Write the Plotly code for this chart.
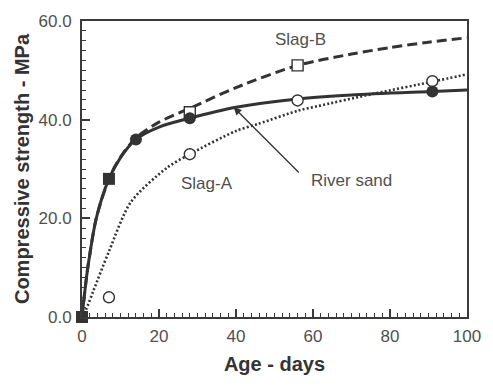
import plotly.graph_objects as go

# Measured test ages (days) and compressive strengths (MPa)
river_age = [0, 7, 14, 28, 91]
river_str = [0, 28.0, 36.0, 40.3, 45.7]
river_sym = ["square", "square", "circle", "circle", "circle"]

slagb_age = [28, 56]
slagb_str = [41.5, 51.0]

slaga_age = [7, 28, 56, 91]
slaga_str = [4.0, 33.0, 43.9, 47.8]

# Fitted strength-development curves
river_fit_age = [0, 0.7, 1.5, 3.7, 7, 10, 14, 20, 28, 40, 56, 70, 91, 100]
river_fit_str = [0, 5.0, 10.0, 20.0, 28.0, 32.3, 36.0, 38.5, 40.3, 42.5, 44.2, 45.0, 45.7, 46.0]

slagb_fit_age = [0, 0.7, 1.5, 3.7, 7, 10, 14, 20, 28, 40, 56, 70, 80, 90, 100]
slagb_fit_str = [0, 5.0, 10.0, 20.0, 28.0, 32.4, 36.3, 39.5, 42.3, 46.5, 51.0, 53.3, 54.6, 55.7, 56.6]

slaga_fit_age = [0, 1, 3, 7, 12.7, 22, 28, 40, 46, 56, 61, 76, 91, 100]
slaga_fit_str = [0, 1.4, 5.4, 13.3, 23.3, 30.2, 33.0, 37.7, 39.2, 41.8, 42.7, 45.3, 47.7, 49.2]

x_ticks = [0, 20, 40, 60, 80, 100]
y_ticks = [0, 20, 40, 60]

INK = "#333333"
TXT = "#505050"
FONT = "Liberation Sans, Arial, sans-serif"

fig = go.Figure()

fig.add_trace(go.Scatter(x=slaga_fit_age, y=slaga_fit_str, mode="lines",
                         line=dict(color=INK, width=2.6, dash="2px,2.2px", shape="spline", smoothing=0.8),
                         hoverinfo="skip", showlegend=False))
fig.add_trace(go.Scatter(x=slagb_fit_age, y=slagb_fit_str, mode="lines",
                         line=dict(color=INK, width=3, dash="10px,5px", shape="spline", smoothing=0.8),
                         hoverinfo="skip", showlegend=False))
fig.add_trace(go.Scatter(x=river_fit_age, y=river_fit_str, mode="lines",
                         line=dict(color=INK, width=3, shape="spline", smoothing=0.8),
                         hoverinfo="skip", showlegend=False))

fig.add_trace(go.Scatter(x=slaga_age, y=slaga_str, mode="markers", cliponaxis=False,
                         marker=dict(symbol="circle", size=11, color="white",
                                     line=dict(color=INK, width=1.4)),
                         name="Slag-A", showlegend=False))
fig.add_trace(go.Scatter(x=slagb_age, y=slagb_str, mode="markers", cliponaxis=False,
                         marker=dict(symbol="square", size=11, color="white",
                                     line=dict(color=INK, width=1.4)),
                         name="Slag-B", showlegend=False))
fig.add_trace(go.Scatter(x=river_age, y=river_str, mode="markers", cliponaxis=False,
                         marker=dict(symbol=river_sym, size=12, color=INK,
                                     line=dict(color=INK, width=0)),
                         name="River sand", showlegend=False))

fig.add_annotation(x=56.7, y=56.2, text="Slag-B", showarrow=False,
                   font=dict(family=FONT, size=17, color=TXT))
fig.add_annotation(x=32.5, y=27.0, text="Slag-A", showarrow=False,
                   font=dict(family=FONT, size=17, color=TXT))
fig.add_annotation(x=70.1, y=27.6, text="River sand", showarrow=False,
                   font=dict(family=FONT, size=17, color=TXT))
fig.add_annotation(x=39.4, y=42.5, ax=56.7, ay=29.0, axref="x", ayref="y",
                   text="", showarrow=True, arrowhead=2, arrowsize=1.2,
                   arrowwidth=1.3, arrowcolor=INK)

axis_common = dict(showgrid=False, zeroline=False, showline=True, mirror=True,
                   linecolor="#3a3a3a", linewidth=2, ticks="inside", ticklen=8,
                   tickwidth=1.5, tickcolor="#3a3a3a",
                   tickfont=dict(family=FONT, size=17, color=TXT),
                   minor=dict(ticks="inside", ticklen=4, tickwidth=1, tickcolor="#3a3a3a", dtick=2))

fig.update_xaxes(range=[0, 100], tickvals=x_ticks, ticklabelstandoff=3,
                 title=dict(text="<b>Age - days</b>", standoff=12,
                            font=dict(family=FONT, size=20, color=INK)),
                 **axis_common)
fig.update_yaxes(range=[0, 60], tickvals=y_ticks, tickformat=".1f", ticklabelstandoff=5,
                 title=dict(text="<b>Compressive strength - MPa</b>", standoff=4,
                            font=dict(family=FONT, size=20, color=INK)),
                 **axis_common)

fig.update_layout(width=493, height=388, paper_bgcolor="white", plot_bgcolor="white",
                  margin=dict(l=82, r=23, t=15, b=71), showlegend=False)

fig.write_html("out.html")
